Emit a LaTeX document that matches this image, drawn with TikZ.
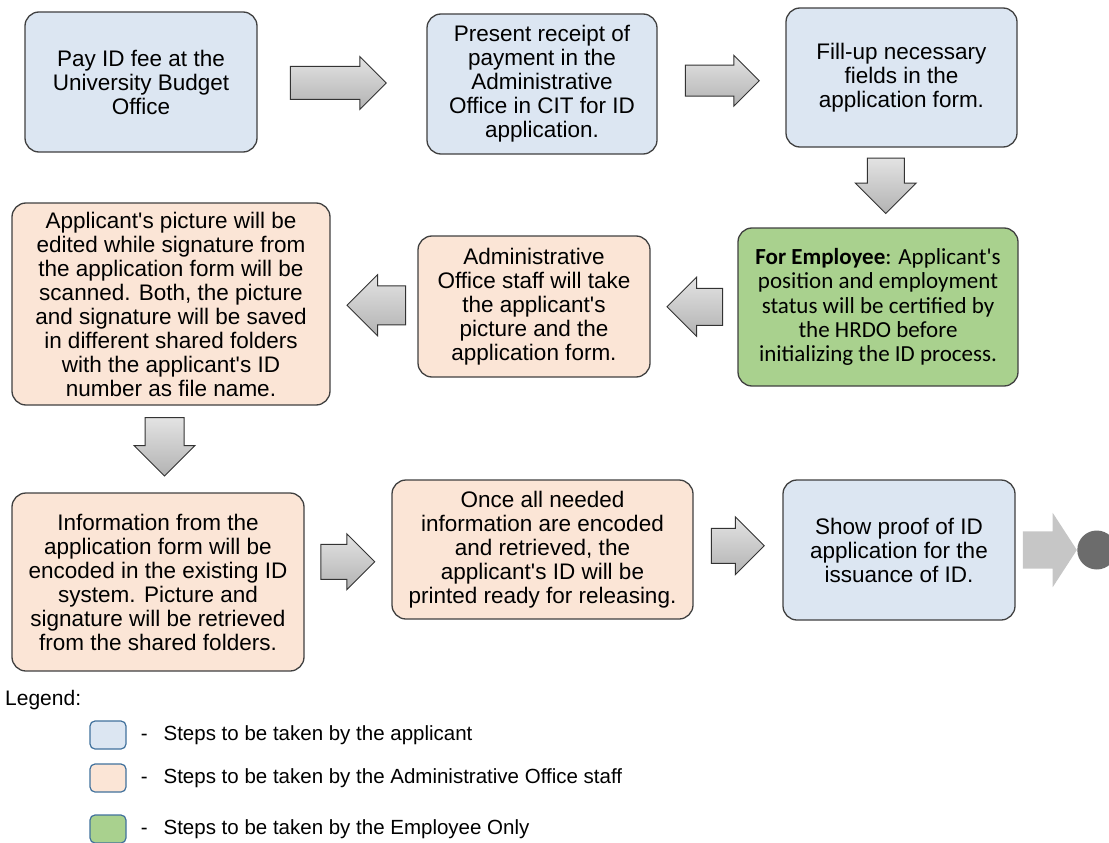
\documentclass[tikz,border=0pt]{standalone}
\usepackage{fontspec}
\setmainfont{Liberation Sans}[Ligatures=TeXOff]
\newfontfamily\hrdofont{Carlito}
\usetikzlibrary{shapes.arrows,positioning,calc}

\definecolor{appblue}{RGB}{220,230,242}
\definecolor{staffpeach}{RGB}{251,229,214}
\definecolor{empgreen}{RGB}{169,209,142}
\definecolor{keyblue}{RGB}{65,113,156}
\definecolor{dotgray}{RGB}{108,108,108}

\tikzset{
  dims/.style 2 args={minimum width=#1pt, minimum height=#2pt},
  box/.style={draw=black!75, line width=1.3pt, rounded corners=14pt, align=center, inner sep=0pt,
    font=\fontsize{22.5}{24}\selectfont},
  applicant/.style={box, fill=appblue},
  staff/.style={box, fill=staffpeach},
  employee/.style={box, fill=empgreen, font=\hrdofont\fontsize{23}{24.4}\selectfont},
  flow/.style 2 args={single arrow, draw=black!80, line width=1pt, top color=gray!22, bottom color=gray!60,
    inner sep=#2, single arrow head extend=11pt, minimum height=#1},
  endflow/.style={single arrow, fill=gray!45, inner sep=18.5pt, single arrow head extend=18.5pt,
    single arrow tip angle=114, minimum height=54pt},
  stopdot/.style={circle, fill=dotgray, inner sep=0pt, minimum size=39pt},
  key/.style={draw=keyblue, line width=1.2pt, rounded corners=5pt, dims={36}{28}, inner sep=0pt},
  keytext/.style={inner sep=0pt, font=\fontsize{20.5}{22}\selectfont}
}

\begin{document}
\begin{tikzpicture}[x=1pt,y=-1pt]
            \useasboundingbox (0,0) rectangle (1109,843);
            \node[applicant,dims={232}{140}] (pay) at (141,82) {Pay ID fee at the\\University Budget\\Office};
            \node[applicant,dims={230}{140}] (receipt) at (542,84) {Present receipt of\\payment in the\\Administrative\\Office in CIT for ID\\application.};
            \node[applicant,dims={231}{139}] (form) at (901.5,77.5) {Fill-up necessary\\fields in the\\application form.};
            \node[employee,dims={280}{158}] (hrdo) at (878,307) {\textbf{For Employee}: Applicant's\\position and employment\\status will be certified by\\the HRDO before\\initializing the ID process.};
            \node[staff,dims={232}{141}] (photo) at (534,306.5) {Administrative\\Office staff will take\\the applicant's\\picture and the\\application form.};
            \node[staff,dims={318}{202}] (scan) at (171,304) {Applicant's picture will be\\edited while signature from\\the application form will be\\scanned. Both, the picture\\and signature will be saved\\in different shared folders\\with the applicant's ID\\number as file name.};
            \node[staff,dims={292}{178}] (encode) at (158,582) {Information from the\\application form will be\\encoded in the existing ID\\system. Picture and\\signature will be retrieved\\from the shared folders.};
            \node[staff,dims={301}{139}] (print) at (542.5,549.5) {Once all needed\\information are encoded\\and retrieved, the\\applicant's ID will be\\printed ready for releasing.};
            \node[applicant,dims={232}{140}] (proof) at (899,550) {Show proof of ID\\application for the\\issuance of ID.};

            \node[flow={96pt}{16pt},single arrow head extend=10pt,xshift=-12pt] (a_1) at ($(pay.east)!.5!(receipt.west)$) {};
            \node[flow={74pt}{15pt},single arrow head extend=10pt,xshift=-7pt] (a_2) at ($(receipt.east)!.5!(form.west)$) {};
            \node[flow={50pt}{18pt},single arrow head extend=12pt,shape border rotate=270,xshift=-4pt,yshift=11pt] (a_3) at ($(form.south)!.5!(hrdo.north)$) {};
            \node[flow={54pt}{18pt},shape border rotate=180,xshift=10pt] (a_4) at ($(hrdo.west)!.5!(photo.east)$) {};
            \node[flow={58pt}{19pt},shape border rotate=180,xshift=12pt] (a_5) at ($(photo.west)!.5!(scan.east)$) {};
            \node[flow={56pt}{19pt},shape border rotate=270,yshift=12pt] (a_6) at ($(scan.south)!.5!(encode.north)$) {};
            \node[flow={54pt}{17pt},single arrow head extend=10.5pt,xshift=-9pt,yshift=4pt] (a_7) at ($(encode.east)!.5!(print.west)$) {};
            \node[flow={53pt}{17pt},single arrow head extend=11.5pt,xshift=-9pt,yshift=4pt] (a_8) at ($(print.east)!.5!(proof.west)$) {};
            \node[endflow] (a_9) [right=7pt of proof] {};
            \node[stopdot] (stop) [right=0pt of a_9.tip] {};

            \node[keytext,anchor=west,font=\fontsize{21}{22}\selectfont] (legend) at (5,700) {Legend:};
            \node[key,fill=appblue] (k_1) at (108,735) {};
            \node[key,fill=staffpeach] (k_2) at (108,778) {};
            \node[key,fill=empgreen] (k_3) at (108,829) {};
            \node[keytext] (t_1) [right=14pt of k_1] {-\hspace{16pt}Steps to be taken by the applicant};
            \node[keytext] (t_2) [right=14pt of k_2] {-\hspace{16pt}Steps to be taken by the Administrative Office staff};
            \node[keytext] (t_3) [right=14pt of k_3] {-\hspace{16pt}Steps to be taken by the Employee Only};
        \end{tikzpicture}
\end{document}
